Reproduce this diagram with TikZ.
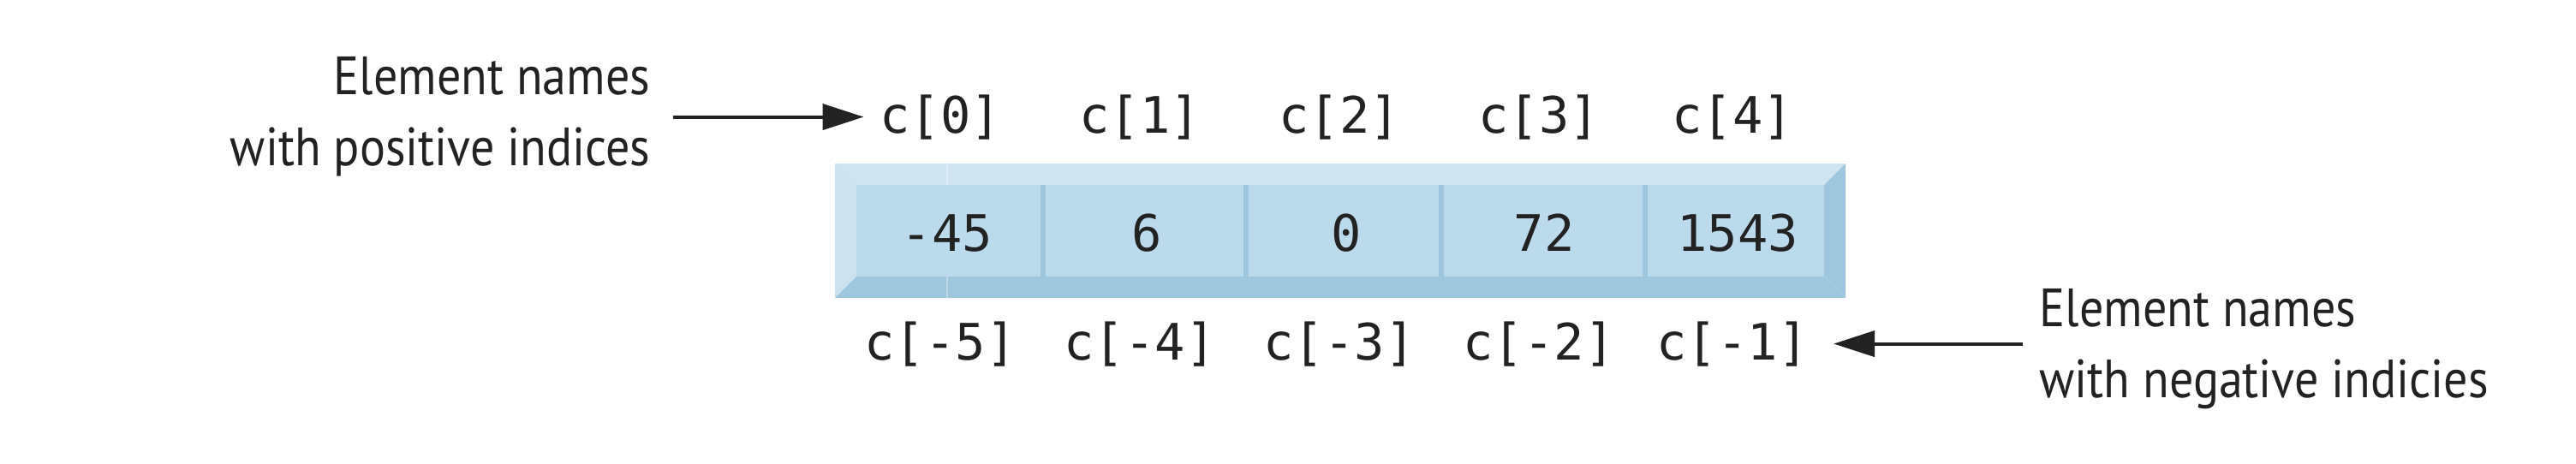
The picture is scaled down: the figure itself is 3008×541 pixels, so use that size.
\documentclass[tikz,border=0pt]{standalone}
\usepackage{fontspec}
\newfontfamily\notefont{PT Sans}[FakeStretch=0.89]
\newfontfamily\codefont{DejaVu Sans Mono}
\usepackage{tikz}
\usetikzlibrary{arrows.meta,positioning}

\definecolor{inkgray}{HTML}{222222}
\definecolor{bevellight}{HTML}{CFE4F0}
\definecolor{bevelside}{HTML}{CCE2EF}
\definecolor{beveldark}{HTML}{9EC6DC}
\definecolor{cellface}{HTML}{BBDBEC}
\definecolor{cellline}{HTML}{9DC5DC}

\begin{document}
\begin{tikzpicture}[x=0.01cm,y=-0.01cm]
		% Styles for the array, its names and the notes
		\tikzset{
			cellval/.style={font=\codefont\fontsize{16.7}{20}\selectfont, text=inkgray, anchor=base, inner sep=0pt},
			idxname/.style={cellval},
			note/.style={font=\notefont\fontsize{17.9}{23.6}\selectfont, text=inkgray, inner sep=0pt},
			pointer/.style={-{Triangle[length=0.48cm,width=0.3cm]}, line width=0.04cm, draw=inkgray}
		}
		\useasboundingbox (0,0) rectangle (3008,541);
		
		% Bevelled frame round the array
		\fill[bevellight] (975,191) -- (2155,191) -- (2130,216) -- (1000,216) -- cycle;
		\fill[bevelside] (975,191) -- (1000,216) -- (1000,323) -- (975,348) -- cycle;
		\fill[beveldark] (975,348) -- (1000,323) -- (2130,323) -- (2155,348) -- cycle;
		\fill[beveldark] (2155,191) -- (2130,216) -- (2130,323) -- (2155,348) -- cycle;
		\draw[white, opacity=0.35, line width=0.015cm] (1106,191) -- (1106,216) (1106,323) -- (1106,348);
		
		% Cell faces with their separators
		\fill[cellface] (1000,216) rectangle (2130,323);
		\foreach \x in {1218,1455,1683,1921}
			\fill[cellline] (\x-3,216) rectangle (\x+3,323);
		
		% Values stored in the cells
		\foreach \v/\x [count=\i from 0] in {-45/1106,6/1339,0/1572,72/1803,1543/2029}
			\node[cellval] (val\i) at (\x,293) {\v};
		
		% Element names above and below
		\foreach \n/\x [count=\i from 0] in {0/1098,1/1331,2/1564,3/1797,4/2023}
			\node[idxname] (pos\i) at (\x,155) {c[\n]};
		\foreach \n/\x [count=\i from 0] in {-5/1098,-4/1331,-3/1564,-2/1797,-1/2023}
			\node[idxname] (neg\i) at (\x,420) {c[\n]};
		
		% Notes on both sides
		\node[note, align=right, anchor=east] (posnote) at (760,136) {Element names\\with positive indices};
		\node[note, align=left, anchor=west] (negnote) at (2381,408) {Element names\\with negative indicies};
		
		% Pointers from the notes to the names
		\draw[pointer, shorten <=0.26cm, shorten >=0.18cm] (posnote.east |- pos0.west) -- (pos0.west);
		\draw[pointer, shorten <=0.19cm, shorten >=0.29cm] (negnote.west |- neg4.east) -- (neg4.east);
	\end{tikzpicture}
\end{document}
